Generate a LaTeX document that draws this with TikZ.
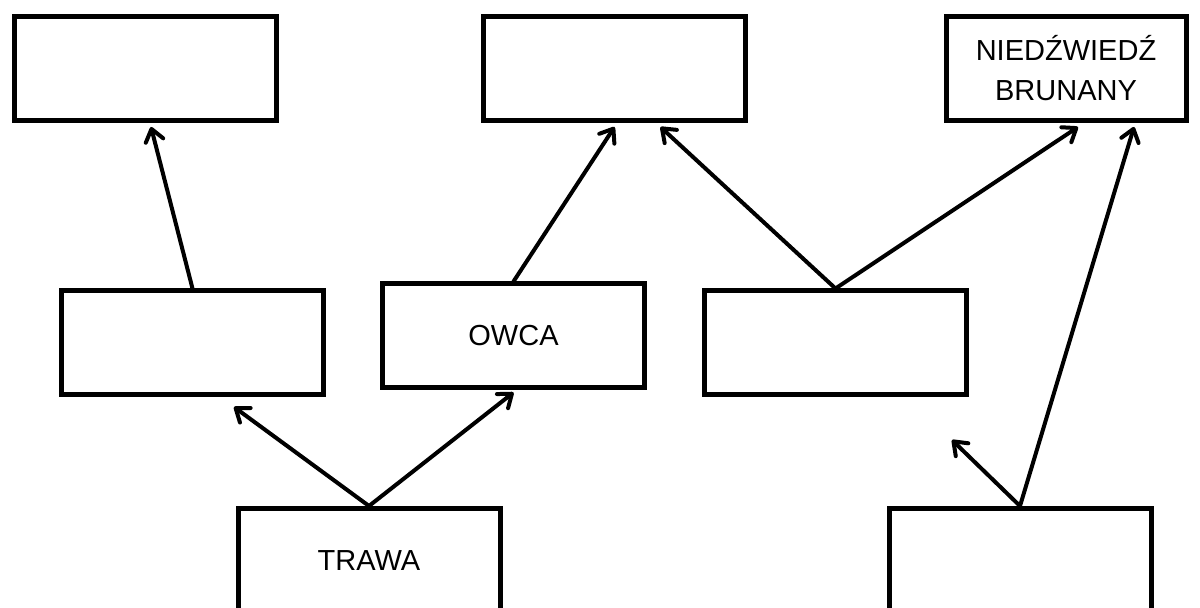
\documentclass[tikz,border=0pt]{standalone}
\usepackage{fontspec}
\setmainfont{Liberation Sans}
\usetikzlibrary{arrows.meta}

\tikzset{
    box/.style={draw=black, line width=2.5pt, minimum width=131pt, minimum height=52pt, inner sep=0pt, align=center, font=\fontsize{14.5}{20}\selectfont},
    link/.style={-{Straight Barb[length=6pt,width=9pt,line cap=round,line join=round]}, line width=2pt, black, line cap=round}
}

\begin{document}
\begin{tikzpicture}[x=0.5pt,y=-0.5pt]
        \useasboundingbox (0,0) rectangle (1200,608);
        \clip (0,0) rectangle (1200,608);
        % top row
        \node[box] (tl) at (145,68.5) {};
        \node[box] (tm) at (614.5,68.5) {};
        \node[box, minimum width=120pt] (tr) at (1066,68.5) {NIEDŹWIEDŹ\\BRUNANY};
        % middle row
        \node[box] (ml) at (192.5,343) {};
        \node[box] (mm) at (513.5,336) {OWCA};
        \node[box] (mr) at (835.5,343) {};
        % bottom row
        \node[box] (bl) at (369,560.5) {TRAWA};
        \node[box] (br) at (1020,560.5) {};
        % free ends
        \coordinate (fl) at (234,407);
        \coordinate (fr) at (952,440);
        % arrows up
        \draw[link] (ml.north) -- ([xshift=3pt,yshift=-2pt]tl.south);
        \draw[link] (mm.north) -- ([yshift=-2pt]tm.south);
        \draw[link] (mr.north) -- ([xshift=23pt,yshift=-2pt]tm.south);
        \draw[link] (mr.north) -- ([xshift=6pt,yshift=-2pt]tr.south);
        \draw[link] (bl.north) -- (fl);
        \draw[link] (bl.north) -- ([yshift=-1pt]mm.south);
        \draw[link] (br.north) -- (fr);
        \draw[link] (br.north) -- ([xshift=34pt,yshift=-2pt]tr.south);
\end{tikzpicture}
\end{document}
